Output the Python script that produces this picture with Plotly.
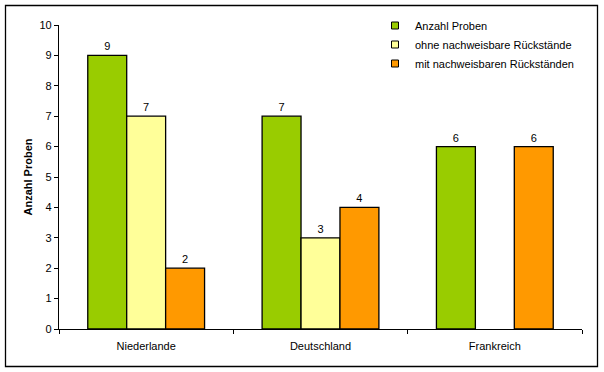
import plotly.graph_objects as go

categories = ["Niederlande", "Deutschland", "Frankreich"]
anzahl_proben = [9, 7, 6]
ohne_rueckstaende = [7, 3, None]
mit_rueckstaenden = [2, 4, 6]
series_names = ["Anzahl Proben", "ohne nachweisbare Rückstände", "mit nachweisbaren Rückständen"]
colors = ["#99CC00", "#FFFF99", "#FF9900"]

W, H = 604, 372
L, R, T, B = 59, 22, 25, 43
pw, ph = W - L - R, H - T - B

fig = go.Figure()
for name, vals, col in zip(series_names, [anzahl_proben, ohne_rueckstaende, mit_rueckstaenden], colors):
    fig.add_trace(go.Bar(
        x=categories, y=vals, name=name, legendgroup=name, showlegend=False,
        marker=dict(color=col, line=dict(color="black", width=1.3)),
        text=[("" if v is None else str(v)) for v in vals],
        textposition="outside", cliponaxis=False,
        textfont=dict(family="Liberation Sans, Arial", size=11, color="black"),
    ))
# legend entries with small square keys
for name, col in zip(series_names, colors):
    fig.add_trace(go.Scatter(
        x=[None], y=[None], mode="markers", name=name, legendgroup=name,
        marker=dict(symbol="square", size=7, color=col, line=dict(color="black", width=1)),
    ))

# outer chart border
x0 = (5.5 - L) / pw
x1 = (597.5 - L) / pw
y1 = (H - B - 5.5) / ph
y0 = (H - B - 366.5) / ph
fig.add_shape(type="rect", xref="paper", yref="paper", x0=x0, x1=x1, y0=y0, y1=y1,
              line=dict(color="black", width=1.3), fillcolor="rgba(0,0,0,0)", layer="above")

fig.update_layout(
    width=W, height=H,
    margin=dict(l=L, r=R, t=T, b=B, autoexpand=False),
    paper_bgcolor="white", plot_bgcolor="white",
    font=dict(family="Liberation Sans, Arial", size=11, color="black"),
    barmode="group", bargap=0.33, bargroupgap=0,
    showlegend=True,
    legend=dict(x=(375 - L) / pw, y=(H - B - 11) / ph, xanchor="left", yanchor="top",
                bgcolor="rgba(0,0,0,0)", font=dict(size=11), tracegroupgap=0,
                itemwidth=30),
    xaxis=dict(showline=True, linecolor="black", linewidth=1.3, ticks="outside",
               tickson="boundaries", ticklen=4, tickcolor="black", tickwidth=1.3,
               showgrid=False, ticklabelstandoff=7, automargin=False),
    yaxis=dict(range=[0, 10], dtick=1, showline=True, linecolor="black", linewidth=1.3,
               ticks="outside", ticklen=4, tickcolor="black", tickwidth=1.3,
               showgrid=False, zeroline=False, automargin=False,
               title=dict(text="<b>Anzahl Proben</b>", font=dict(size=11), standoff=4)),
)

fig.write_html("out.html", config={"displayModeBar": False},
               post_script="document.body.style.margin='0';document.body.style.overflow='hidden';")
